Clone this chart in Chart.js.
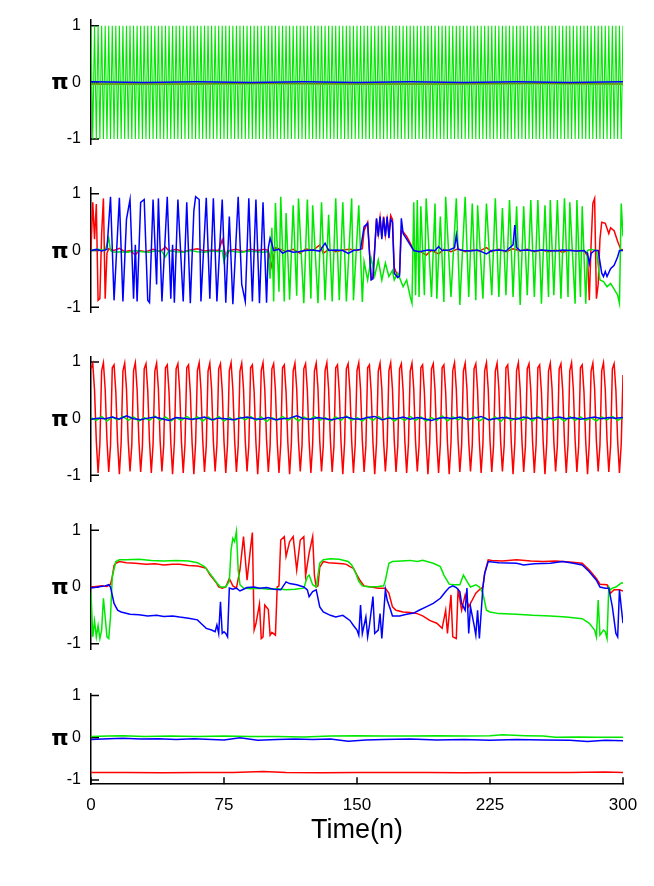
<!DOCTYPE html>
<html>
<head>
<meta charset="utf-8">
<script src="https://cdn.jsdelivr.net/npm/chart.js@4.4.1/dist/chart.umd.min.js"></script>
<style>
  body { margin: 0; background: #fff; width: 654px; height: 886px; position: relative; overflow: hidden; }
  canvas { position: absolute; left: 0; top: 0; }
  .pi { position: absolute; width: 30px; text-align: center; font: bold 22px "DejaVu Sans", sans-serif; color: #000; line-height: 1; }
  #xtitle { position: absolute; left: 0; width: 714px; text-align: center; font: 27px "Liberation Sans", Arial, sans-serif; color: #000; }
</style>
</head>
<body>
<canvas id="c1" width="654" height="886"></canvas>
<canvas id="c2" width="654" height="886"></canvas>
<canvas id="c3" width="654" height="886"></canvas>
<canvas id="c4" width="654" height="886"></canvas>
<canvas id="c5" width="654" height="886"></canvas>
<div class="pi" id="pi1">π</div>
<div class="pi" id="pi2">π</div>
<div class="pi" id="pi3">π</div>
<div class="pi" id="pi4">π</div>
<div class="pi" id="pi5">π</div>
<div id="xtitle">Time(n)</div>
<script>
// ---- data (time n, value) ----
const xTicks = [0, 75, 150, 225, 300];
const yTicks = [-1, 0, 1];

// panel 1: green flips sign every step
const p1Green = [
  1,-1,1,-1,1,-1,1,-1,1,-1, 1,-1,1,-1,1,-1,1,-1,1,-1, 1,-1,1,-1,1,-1,1,-1,1,-1,
  1,-1,1,-1,1,-1,1,-1,1,-1, 1,-1,1,-1,1,-1,1,-1,1,-1, 1,-1,1,-1,1,-1,1,-1,1,-1,
  1,-1,1,-1,1,-1,1,-1,1,-1, 1,-1,1,-1,1,-1,1,-1,1,-1, 1,-1,1,-1,1,-1,1,-1,1,-1,
  1,-1,1,-1,1,-1,1,-1,1,-1, 1,-1,1,-1,1,-1,1,-1,1,-1, 1,-1,1,-1,1,-1,1,-1,1,-1,
  1,-1,1,-1,1,-1,1,-1,1,-1, 1,-1,1,-1,1,-1,1,-1,1,-1, 1,-1,1,-1,1,-1,1,-1,1,-1,
  1,-1,1,-1,1,-1,1,-1,1,-1, 1,-1,1,-1,1,-1,1,-1,1,-1, 1,-1,1,-1,1,-1,1,-1,1,-1,
  1,-1,1,-1,1,-1,1,-1,1,-1, 1,-1,1,-1,1,-1,1,-1,1,-1, 1,-1,1,-1,1,-1,1,-1,1,-1,
  1,-1,1,-1,1,-1,1,-1,1,-1, 1,-1,1,-1,1,-1,1,-1,1,-1, 1,-1,1,-1,1,-1,1,-1,1,-1,
  1,-1,1,-1,1,-1,1,-1,1,-1, 1,-1,1,-1,1,-1,1,-1,1,-1, 1,-1,1,-1,1,-1,1,-1,1,-1,
  1,-1,1,-1,1,-1,1,-1,1,-1, 1,-1,1,-1,1,-1,1,-1,1,-1, 1,-1,1,-1,1,-1,1,-1,1,-1,
  1
];
const p1Blue = [[0,0.01],[30,0],[60,0.01],[90,0],[120,0.01],[150,0],[180,0.01],[210,0],[240,0.01],[270,0],[300,0.01]];
const p1Red = [[0,-0.03],[50,-0.03],[100,-0.02],[150,-0.03],[200,-0.03],[250,-0.02],[300,-0.03]];

// panel 2
const p2Red = [[0,0.02],[1,0.85],[2,0.2],[3,0.82],[4,-0.88],[5,-0.85],[6,0.3],[7,0.92],[8,-0.85],[9,-0.05],[10,0.03],
  [13,0],[16,0.04],[19,-0.02],[22,0],[25,-0.08],[27,0],[31,-0.02],[35,0.02],[39,-0.02],[42,0.06],[44,-0.01],[48,0.02],
  [52,-0.02],[56,0.01],[60,0.03],[64,-0.01],[68,0.01],[72,0],[74,0.19],[76,-0.1],[78,0],[82,0.02],[86,-0.02],[90,0.02],
  [94,0],[98,0.02],[100,0],[102,-0.29],[104,0.05],[107,0.02],[110,-0.02],[114,0.02],[118,-0.05],[121,0.03],[125,0],
  [129,0.1],[131,-0.05],[134,0.02],[138,-0.02],[142,0.01],[146,0.02],[150,0],[153,0.03],[154,0.35],[156,0.5],[158,-0.5],
  [159,-0.48],[161,0.55],[162,0.3],[163,0.58],[164,0.25],[165,0.6],[166,0.28],[167,0.55],[168,0.3],[169,0.62],[170,0.55],
  [171,-0.3],[173,-0.46],[174,-0.4],[175,0.35],[176,0.33],[178,0.25],[180,0.13],[182,0],[186,-0.02],[189,-0.08],[192,0],
  [196,-0.06],[199,0.02],[203,-0.02],[207,0.03],[211,-0.02],[215,0.01],[219,-0.01],[223,0.05],[226,-0.02],[230,0.02],
  [234,-0.02],[238,0.03],[242,-0.01],[246,0.02],[250,-0.02],[254,0.01],[258,-0.02],[262,0.01],[266,-0.03],[270,0.01],
  [274,-0.01],[278,0],[280,-0.1],[281,-0.88],[282,0.1],[283,0.83],[284,0.92],[285,-0.85],[286,-0.6],[287,0.2],[288,0.5],
  [290,0.48],[292,0.3],[293,0.4],[295,0.35],[297,0.16],[299,0],[300,0.02]];
const p2Blue = [[0,0],[3,0.02],[6,-0.01],[9,0.02],[11,0.95],[13,-0.88],[16,0.93],[18,-0.9],[20,0.55],[22,0.9],[24,-0.85],
  [25,0.1],[26,-0.9],[28,0.85],[30,0.9],[32,-0.88],[33,-0.92],[35,0.9],[37,-0.6],[38,0.92],[40,-0.9],[43,0.95],[45,-0.85],
  [46,0.1],[47,-0.92],[49,0.9],[52,-0.9],[54,0.85],[56,-0.93],[58,0.7],[59,0.95],[61,0.9],[62,-0.9],[65,0.93],[67,-0.85],
  [69,0.92],[71,-0.9],[74,0.9],[76,-0.92],[78,0.6],[80,-0.95],[83,0.95],[85,-0.6],[87,-0.9],[89,0.92],[91,-0.9],[93,0.9],
  [95,-0.93],[97,0.85],[99,-0.92],[100,0.05],[101,0.22],[102,0.12],[103,0],[106,0.02],[108,-0.05],[111,0],[114,-0.03],
  [117,-0.02],[121,0],[125,0.01],[129,-0.01],[132,0.13],[134,0],[138,0.01],[142,0],[145,-0.05],[148,0],[152,0.02],
  [154,0.42],[156,0.48],[158,-0.52],[159,-0.5],[161,0.57],[162,0.25],[163,0.6],[164,0.2],[165,0.58],[166,0.25],[167,0.6],
  [168,0.22],[169,0.55],[170,0.5],[171,-0.4],[173,-0.48],[174,-0.45],[175,0.57],[176,0.3],[178,0.2],[180,0.1],[182,0],
  [185,-0.02],[190,0.01],[194,0],[196,0.07],[198,0],[202,0.01],[205,0.05],[206,0.27],[207,0.02],[210,0],[214,-0.01],
  [218,0.01],[223,-0.06],[226,0],[230,0.01],[234,-0.01],[238,0.1],[239,0.45],[240,0.05],[242,0],[246,0.01],[250,-0.01],
  [254,0.01],[258,0],[262,-0.01],[266,0.01],[270,0],[274,-0.01],[278,0],[280,-0.05],[281,-0.23],[282,-0.05],[284,0],
  [286,0],[288,-0.4],[289,-0.46],[290,-0.37],[291,-0.46],[293,-0.32],[295,-0.26],[297,-0.11],[298,0],[300,0]];
const p2Green = [[0,0],[4,0.02],[8,0],[10,0.22],[11,0],[13,-0.03],[17,-0.02],[21,-0.03],[25,0],[29,-0.02],[33,-0.03],
  [37,0],[40,-0.02],[42,-0.11],[44,0],[48,-0.02],[52,-0.03],[56,0],[60,-0.02],[64,-0.03],[68,-0.01],[72,-0.02],[74,0],
  [75,-0.2],[77,0],[81,-0.02],[85,-0.03],[89,-0.01],[93,-0.02],[97,-0.03],[100,-0.02],
  [101,-0.5],[102,0.4],[103,-0.9],[104,0.84],[106,-0.73],[107,0.95],[109,-0.9],[110,0.66],[112,-0.87],[114,0.8],
  [116,-0.8],[117,0.92],[120,-0.93],[122,0.9],[124,-0.85],[125,0.8],[128,-0.93],[130,0.85],[132,-0.88],[134,0.63],
  [136,-0.9],[138,0.92],[140,-0.88],[142,0.85],[144,-0.9],[147,0.92],[148,-0.88],[151,0.8],[153,-0.91],[154,-0.2],
  [156,-0.52],[158,-0.14],[160,-0.45],[162,-0.17],[164,-0.52],[166,-0.22],[168,-0.46],[170,-0.35],[171,-0.52],[173,-0.4],
  [176,-0.64],[178,-0.52],[180,-0.82],[181,-0.93],
  [182,0.85],[183,-0.79],[184,0.89],[185,-0.82],[186,0.78],[188,-0.79],[189,0.92],[192,-0.82],[194,0.83],[195,-0.85],
  [197,0.6],[199,-0.91],[200,0.95],[203,-0.82],[206,0.92],[208,-0.96],[211,0.95],[213,-0.82],[215,0.83],[217,-0.88],
  [218,0.8],[221,-0.85],[223,0.83],[226,-0.79],[228,0.92],[230,-0.82],[232,0.75],[234,-0.79],[236,0.89],[238,-0.82],
  [240,0.78],[242,-0.96],[244,0.78],[246,-0.79],[248,0.89],[250,-0.82],[252,0.89],[254,-0.94],[256,0.8],[258,-0.82],
  [259,0.89],[261,-0.79],[263,0.89],[265,-0.85],[267,0.92],[269,-0.82],[270,0.85],[273,-0.94],[274,0.89],[276,-0.82],
  [277,0.78],[279,-0.94],[280,0],[282,0.02],[285,0],[287,-0.52],[289,-0.55],[291,-0.64],[293,-0.58],[295,-0.68],
  [297,-0.79],[298,-0.93],[299,0.83],[300,0.25]];

// panel 3: red every step, green every 3 steps, blue every 4 steps
const p3Red = [
  0.88,0.97,0.5,-0.4,-0.96,-0.45, 0.85,0.99,0.52,-0.38,-0.94,-0.48,
  0.9,0.95,0.47,-0.42,-0.98,-0.43, 0.84,0.98,0.53,-0.4,-0.93,-0.47,
  0.85,0.99,0.52,-0.38,-0.94,-0.48, 0.88,0.97,0.5,-0.4,-0.96,-0.45,
  0.84,0.98,0.53,-0.4,-0.93,-0.47, 0.9,0.95,0.47,-0.42,-0.98,-0.43,
  0.88,0.97,0.5,-0.4,-0.96,-0.45, 0.9,0.95,0.47,-0.42,-0.98,-0.43,
  0.85,0.99,0.52,-0.38,-0.94,-0.48, 0.84,0.98,0.53,-0.4,-0.93,-0.47,
  0.88,0.97,0.5,-0.4,-0.96,-0.45, 0.85,0.99,0.52,-0.38,-0.94,-0.48,
  0.84,0.98,0.53,-0.4,-0.93,-0.47, 0.9,0.95,0.47,-0.42,-0.98,-0.43,
  0.85,0.99,0.52,-0.38,-0.94,-0.48, 0.88,0.97,0.5,-0.4,-0.96,-0.45,
  0.9,0.95,0.47,-0.42,-0.98,-0.43, 0.84,0.98,0.53,-0.4,-0.93,-0.47,
  0.88,0.97,0.5,-0.4,-0.96,-0.45, 0.84,0.98,0.53,-0.4,-0.93,-0.47,
  0.85,0.99,0.52,-0.38,-0.94,-0.48, 0.9,0.95,0.47,-0.42,-0.98,-0.43,
  0.88,0.97,0.5,-0.4,-0.96,-0.45, 0.85,0.99,0.52,-0.38,-0.94,-0.48,
  0.9,0.95,0.47,-0.42,-0.98,-0.43, 0.84,0.98,0.53,-0.4,-0.93,-0.47,
  0.85,0.99,0.52,-0.38,-0.94,-0.48, 0.88,0.97,0.5,-0.4,-0.96,-0.45,
  0.84,0.98,0.53,-0.4,-0.93,-0.47, 0.9,0.95,0.47,-0.42,-0.98,-0.43,
  0.88,0.97,0.5,-0.4,-0.96,-0.45, 0.9,0.95,0.47,-0.42,-0.98,-0.43,
  0.85,0.99,0.52,-0.38,-0.94,-0.48, 0.84,0.98,0.53,-0.4,-0.93,-0.47,
  0.88,0.97,0.5,-0.4,-0.96,-0.45, 0.85,0.99,0.52,-0.38,-0.94,-0.48,
  0.84,0.98,0.53,-0.4,-0.93,-0.47, 0.9,0.95,0.47,-0.42,-0.98,-0.43,
  0.85,0.99,0.52,-0.38,-0.94,-0.48, 0.88,0.97,0.5,-0.4,-0.96,-0.45,
  0.9,0.95,0.47,-0.42,-0.98,-0.43, 0.84,0.98,0.53,-0.4,-0.93,-0.47,
  0.88,0.97,0.5,-0.4,-0.96,-0.45, 0.85,0.99,0.52,-0.38,-0.94,-0.48,
  0.9,0.95,0.47,-0.42,-0.98,-0.43, 0.84,0.98,0.53,-0.4,-0.93,-0.47,
  0.85,0.99,0.52,-0.38,-0.94,-0.48, 0.88,0.97,0.5,-0.4,-0.96,-0.45,
  0.77
];
const p3GreenStep = 3;
const p3Green = [
  0.02,-0.03,0.04,-0.04,0.03,-0.02,0.04,-0.03,0.03,-0.04,
  0.02,-0.03,0.05,-0.03,0.03,-0.04,0.02,-0.03,0.04,-0.02,
  0.03,-0.04,0.03,-0.03,0.04,-0.04,0.02,-0.03,0.03,-0.02,
  0.04,-0.03,0.03,-0.05,0.02,-0.03,0.04,-0.03,0.03,-0.04,
  0.03,-0.02,0.04,-0.03,0.02,-0.04,0.03,-0.03,0.05,-0.03,
  0.02,-0.04,0.03,-0.03,0.04,-0.02,0.03,-0.04,0.02,-0.03,
  0.04,-0.03,0.03,-0.04,0.02,-0.03,0.05,-0.04,0.03,-0.02,
  0.03,-0.03,0.04,-0.04,0.02,-0.03,0.03,-0.05,0.04,-0.03,
  0.02,-0.03,0.03,-0.04,0.04,-0.02,0.03,-0.03,0.02,-0.04,
  0.04,-0.03,0.03,-0.03,0.02,-0.04,0.03,-0.02,0.04,-0.03,
  0.02
];
const p3BlueStep = 4;
const p3Blue = [
  -0.01,0.01,0,0.03,-0.01,0.05,0,-0.02,0.01,0.03,
  0,-0.03,0.02,0.01,-0.01,0,0.03,-0.02,0.01,0,
  -0.02,0.01,0.03,0,-0.01,0.02,-0.02,0,0.01,0.05,
  0,-0.01,0.02,0,-0.02,0.01,0.03,0,-0.01,0.02,
  0.04,-0.02,0.01,0,0.03,-0.01,0.02,0,-0.03,0.01,
  0.02,0,0.03,-0.01,0.01,0.04,-0.02,0,0.02,0.01,
  -0.01,0.03,0,0.02,-0.02,0.01,0.03,0,0.02,-0.01,
  0.01,0.03,0,0.02,0.01,0.02
];

// panel 4
const p4Red = [[0,0],[3,0.01],[6,0.02],[9,0.01],[11,0.05],[12,0.18],[13,0.38],[14,0.42],[16,0.45],[20,0.43],[25,0.42],
  [31,0.4],[36,0.41],[41,0.39],[46,0.4],[50,0.4],[55,0.38],[60,0.37],[63,0.35],[65,0.33],[67,0.22],[69,0.14],[71,0.06],
  [72,0],[74,-0.02],[76,0],[78,0.15],[80,0.02],[82,-0.02],[84,0.3],[86,0.89],[88,0.12],[90,0.7],[91,0.96],[92,-0.76],
  [93,-0.65],[95,-0.3],[96,-0.91],[97,-0.88],[98,-0.32],[100,-0.4],[101,-0.85],[102,-0.8],[104,-0.85],[105,0],[106,0.02],
  [107,0.83],[109,0.89],[110,0.54],[112,0.8],[114,0.89],[116,0.3],[118,0.83],[120,0.89],[121,0.2],[123,0.6],[125,0.89],
  [126,0.2],[127,0],[128,0.02],[129,0.35],[131,0.45],[134,0.43],[138,0.42],[142,0.41],[144,0.4],[146,0.36],[148,0.33],
  [150,0.21],[152,0.1],[154,0.02],[158,0],[162,-0.02],[166,-0.02],[168,-0.11],[170,-0.35],[172,-0.41],[176,-0.44],
  [180,-0.45],[184,-0.47],[187,-0.51],[191,-0.59],[195,-0.64],[198,-0.73],[200,-0.41],[201,-0.82],[203,-0.14],[204,-0.88],
  [206,-0.91],[207,-0.03],[209,-0.41],[211,-0.14],[213,-0.35],[215,-0.23],[217,-0.11],[219,-0.05],[221,0],[222,0.24],
  [224,0.48],[226,0.47],[232,0.46],[240,0.48],[248,0.46],[255,0.45],[262,0.46],[270,0.44],[277,0.42],[281,0.3],
  [285,0.15],[287,0.05],[291,0.04],[293,-0.11],[295,-0.05],[298,-0.05],[300,-0.07]];
const p4Green = [[0,-0.1],[1,-0.88],[2,-0.6],[3,-0.88],[4,-0.68],[5,-0.91],[6,-0.76],[7,-0.2],[8,-0.53],[9,-0.88],
  [10,-0.91],[11,-0.53],[12,0.18],[14,0.45],[16,0.48],[20,0.48],[27,0.49],[34,0.47],[41,0.46],[48,0.47],[55,0.46],
  [60,0.43],[64,0.36],[67,0.24],[71,0.07],[73,0],[76,0],[78,0.1],[79,0.66],[80,0.86],[81,0.8],[82,0.98],[83,0.3],
  [84,0.04],[86,-0.02],[90,-0.03],[95,-0.02],[100,-0.04],[105,-0.03],[110,-0.05],[115,-0.04],[120,-0.02],[122,0.18],
  [123,0.21],[125,0.04],[127,0],[129,0.42],[131,0.48],[135,0.5],[140,0.49],[145,0.45],[147,0.39],[149,0.27],[151,0.1],
  [153,0.02],[157,0],[162,0.01],[165,0.02],[166,0.12],[168,0.42],[170,0.45],[175,0.46],[180,0.47],[184,0.45],[187,0.47],
  [193,0.42],[197,0.36],[199,0.21],[202,0.05],[205,0.04],[208,0.04],[210,0.21],[212,0.1],[214,0],[217,0.04],[219,0],
  [221,-0.11],[223,-0.41],[225,-0.44],[230,-0.47],[240,-0.48],[249,-0.5],[259,-0.51],[268,-0.53],[277,-0.56],[281,-0.64],
  [284,-0.76],[285,-0.88],[286,-0.23],[287,-0.85],[289,-0.76],[290,-0.79],[291,-0.91],[292,0],[293,-0.05],[294,-0.02],
  [296,0],[299,0.07],[300,0.07]];
const p4Blue = [[0,-0.02],[4,0],[8,0.02],[10,0.04],[11,0],[13,-0.29],[15,-0.41],[17,-0.44],[22,-0.48],[27,-0.49],
  [32,-0.51],[37,-0.5],[41,-0.52],[46,-0.51],[50,-0.53],[55,-0.55],[60,-0.58],[63,-0.67],[65,-0.73],[68,-0.76],[70,-0.79],
  [71,-0.67],[72,-0.82],[73,-0.26],[74,-0.82],[75,-0.79],[76,-0.82],[77,-0.88],[78,-0.02],[80,-0.04],[82,-0.02],
  [84,-0.07],[86,-0.04],[88,-0.01],[92,0],[95,-0.02],[99,-0.01],[103,-0.04],[107,-0.05],[110,0.09],[112,0.06],[116,0.04],
  [120,0],[122,-0.05],[123,-0.17],[125,-0.08],[127,-0.05],[129,-0.35],[131,-0.44],[135,-0.5],[138,-0.53],[142,-0.5],
  [146,-0.59],[148,-0.68],[150,-0.76],[151,-0.85],[152,-0.32],[153,-0.82],[155,-0.53],[156,-0.88],[157,-0.68],
  [159,-0.17],[160,-0.82],[162,-0.76],[163,-0.47],[164,-0.91],[166,-0.05],[167,-0.23],[169,-0.41],[170,-0.51],
  [174,-0.51],[178,-0.48],[182,-0.46],[185,-0.41],[189,-0.35],[193,-0.29],[197,-0.2],[200,-0.08],[202,-0.01],[204,0.02],
  [206,-0.01],[208,-0.08],[209,-0.29],[211,-0.41],[212,-0.02],[213,-0.82],[214,-0.35],[216,-0.67],[217,-0.85],
  [218,-0.41],[219,-0.91],[221,0],[222,0.24],[224,0.45],[230,0.43],[240,0.42],[244,0.39],[250,0.41],[259,0.42],
  [266,0.45],[272,0.42],[277,0.39],[281,0.27],[285,0.12],[287,0],[290,-0.02],[292,-0.02],[294,-0.35],[296,-0.82],
  [297,-0.88],[298,-0.05],[299,-0.35],[300,-0.64]];

// panel 5
const p5Green = [[0,0.03],[10,0.04],[18,0.05],[30,0.03],[45,0.04],[60,0.03],[75,0.04],[90,0.03],[105,0.03],[120,0.02],
  [135,0.04],[150,0.05],[165,0.04],[180,0.04],[195,0.05],[210,0.04],[225,0.05],[232,0.07],[245,0.05],[255,0.04],
  [262,0.01],[275,0.02],[285,0.01],[300,0.01]];
const p5Blue = [[0,-0.04],[10,-0.02],[18,-0.01],[28,-0.03],[38,-0.02],[48,-0.04],[58,-0.02],[68,-0.04],[75,-0.05],
  [84,0],[94,-0.06],[105,-0.04],[115,-0.03],[125,-0.04],[135,-0.03],[145,-0.08],[155,-0.05],[165,-0.04],[180,-0.03],
  [195,-0.05],[210,-0.04],[225,-0.06],[240,-0.04],[255,-0.05],[270,-0.06],[280,-0.09],[290,-0.06],[300,-0.07]];
const p5Red = [[0,-0.82],[20,-0.82],[40,-0.83],[60,-0.82],[80,-0.82],[97,-0.8],[110,-0.82],[130,-0.83],[150,-0.82],
  [170,-0.82],[190,-0.82],[210,-0.83],[230,-0.82],[250,-0.82],[270,-0.82],[290,-0.81],[300,-0.82]];

// ---- helpers ----
const pairs = a => a.map(p => ({x: p[0], y: p[1]}));
const dense = (a, step) => a.map((v, i) => ({x: i * step, y: v}));

const RED = '#ff0000', GREEN = '#00e800', BLUE = '#0000ff';
const W = 654, H = 886;
const AXIS_LEFT = 91, AXIS_RIGHT = 623, XAXIS_H = 40;

const panels = [
  {id: 'c1', top: 20.1, bottom: 144.7, yMin: -1.1, yMax: 1.1, red: pairs(p1Red), green: dense(p1Green, 1), blue: pairs(p1Blue), lw: 1.1},
  {id: 'c2', top: 188.2, bottom: 312.8, yMin: -1.1, yMax: 1.1, red: pairs(p2Red), green: pairs(p2Green), blue: pairs(p2Blue)},
  {id: 'c3', top: 356.4, bottom: 481.0, yMin: -1.1, yMax: 1.1, red: dense(p3Red, 1), green: dense(p3Green, p3GreenStep), blue: dense(p3Blue, p3BlueStep)},
  {id: 'c4', top: 524.7, bottom: 649.3, yMin: -1.1, yMax: 1.1, red: pairs(p4Red), green: pairs(p4Green), blue: pairs(p4Blue)},
  {id: 'c5', top: 693.9, bottom: 784.2, yMin: -1.1, yMax: 1.04, red: pairs(p5Red), green: pairs(p5Green), blue: pairs(p5Blue), xAxis: true}
];

// inward tick marks drawn under the data
const innerTicks = {
  id: 'innerTicks',
  beforeDatasetsDraw(chart) {
    const {ctx, chartArea, scales} = chart;
    ctx.save();
    ctx.strokeStyle = '#000';
    ctx.lineWidth = 1.5;
    ctx.beginPath();
    yTicks.forEach(v => {
      const y = scales.y.getPixelForValue(v);
      ctx.moveTo(chartArea.left, y);
      ctx.lineTo(chartArea.left + 8, y);
    });
    if (scales.x.options.display) {
      xTicks.forEach(v => {
        const x = scales.x.getPixelForValue(v);
        ctx.moveTo(x, chartArea.bottom);
        ctx.lineTo(x, chartArea.bottom - 7);
      });
    }
    ctx.stroke();
    ctx.restore();
  }
};

const line = (data, color, order, w) => ({
  data, borderColor: color, borderWidth: w, pointRadius: 0, tension: 0, fill: false, order
});

panels.forEach((p, i) => {
  const showX = !!p.xAxis;
  new Chart(document.getElementById(p.id), {
    type: 'line',
    data: {
      datasets: [line(p.blue, BLUE, 0, 1.5), line(p.green, GREEN, 1, p.lw || 1.5), line(p.red, RED, 2, 1.5)]
    },
    options: {
      responsive: false,
      animation: false,
      events: [],
      layout: {padding: {left: 0, right: W - AXIS_RIGHT, top: p.top, bottom: H - p.bottom - (showX ? XAXIS_H : 0)}},
      plugins: {legend: {display: false}, tooltip: {enabled: false}},
      scales: {
        x: {
          type: 'linear', min: 0, max: 300, display: showX,
          afterBuildTicks: s => { s.ticks = xTicks.map(v => ({value: v})); },
          afterFit: s => { s.height = showX ? XAXIS_H : 0; },
          grid: {display: false, drawTicks: false},
          border: {display: true, color: '#000', width: 1.5},
          ticks: {padding: 11, color: '#000', maxRotation: 0, autoSkip: false,
                  font: {family: 'Liberation Sans', size: 17}, callback: v => String(v)}
        },
        y: {
          min: p.yMin, max: p.yMax,
          afterBuildTicks: s => { s.ticks = yTicks.map(v => ({value: v})); },
          afterFit: s => { s.width = AXIS_LEFT; },
          grid: {display: false, drawTicks: false},
          border: {display: true, color: '#000', width: 1.5},
          ticks: {padding: 10, color: '#000', font: {family: 'Liberation Sans', size: 16}, callback: v => String(v)}
        }
      }
    },
    plugins: [innerTicks]
  });

  // π label beside each panel, centred on the zero line
  const zero = p.top + (p.bottom - p.top) * (p.yMax / (p.yMax - p.yMin));
  const pi = document.getElementById('pi' + (i + 1));
  pi.style.left = (60 - 15) + 'px';
  pi.style.top = (zero - 11) + 'px';
});

const xt = document.getElementById('xtitle');
xt.style.top = '814px';
</script>
</body>
</html>
